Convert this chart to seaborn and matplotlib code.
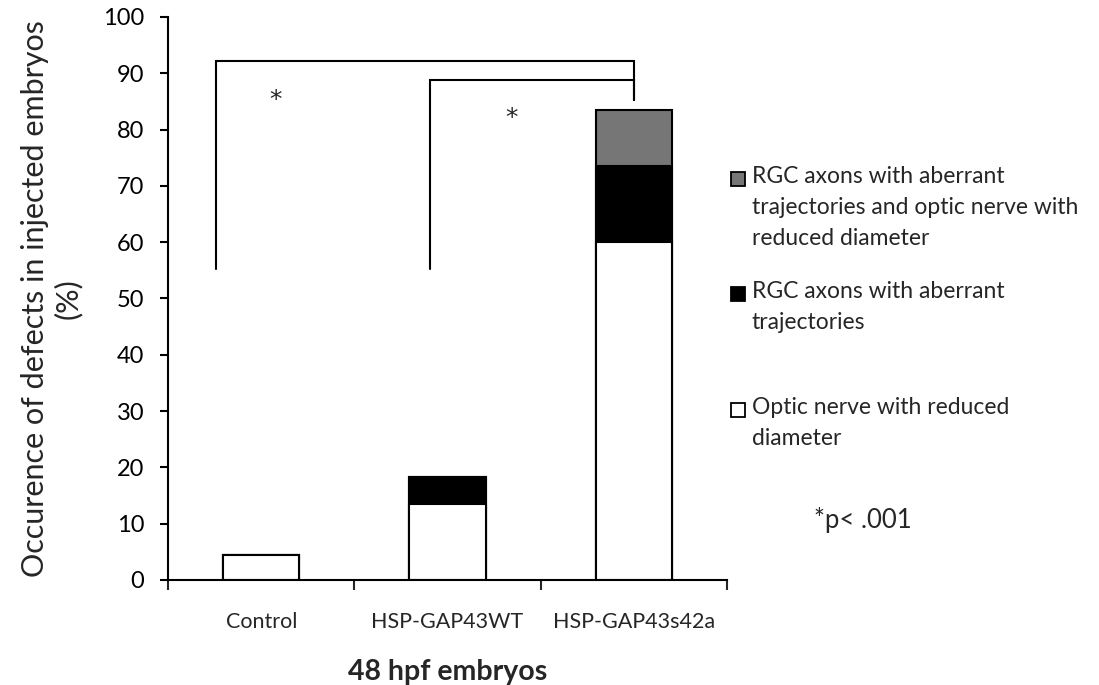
import matplotlib
matplotlib.use("Agg")
import matplotlib.pyplot as plt
import seaborn as sns
import pandas as pd
from matplotlib.patches import Rectangle
from matplotlib.ticker import FixedLocator


GROUPS = ["Control", "HSP-GAP43WT", "HSP-GAP43s42a"]
# stacked segments, bottom to top (%)
OPTIC_ONLY = [4.5, 13.5, 60.0]
AXONS_ONLY = [0.0, 4.8, 13.5]
BOTH = [0.0, 0.0, 10.0]

SEGMENT_LABELS = [
    "RGC axons with aberrant\ntrajectories and optic nerve with\nreduced diameter",
    "RGC axons with aberrant\ntrajectories",
    "Optic nerve with reduced\ndiameter",
]
SEGMENT_COLORS = ["#767676", "black", "white"]

# significance brackets: (left x, right x, left foot, top, right foot)
BRACKETS = [
    (-0.24, 2.0, 55.3, 92.2, 85.3),
    (0.907, 2.0, 55.3, 88.8, 85.3),
]
STARS = [(0.075, 85.2), (1.344, 82.0)]

FONT = ["Lato", "DejaVu Sans"]


def build_frame():
    df = pd.DataFrame({
        "group": GROUPS,
        "optic": OPTIC_ONLY,
        "axons": AXONS_ONLY,
        "both": BOTH,
    })
    # cumulative heights so that overlaid bars look stacked
    df["lvl1"] = df["optic"]
    df["lvl2"] = df["optic"] + df["axons"]
    df["lvl3"] = df["lvl2"] + df["both"]
    return df


def draw_legend(fig):
    # legend drawn by hand so the box sits on the first line of each label
    W, H = 1099, 685
    first_lines = [179, 294, 410]
    for label, color, yc in zip(SEGMENT_LABELS, SEGMENT_COLORS, first_lines):
        fig.add_artist(Rectangle((731 / W, 1 - (yc + 7) / H), 14 / W, 14 / H,
                                 transform=fig.transFigure, facecolor=color,
                                 edgecolor="black", linewidth=1.3))
        fig.text(752 / W, 1 - (yc - 13) / H, label, ha="left", va="top",
                 fontsize=16.5, linespacing=1.58)


def plot_data(df):
    sns.set_style("white")
    plt.rcParams["font.family"] = FONT
    fig = plt.figure(figsize=(10.99, 6.85), dpi=100)
    ax = fig.add_axes([0.1529, 0.1533, 0.5086, 0.8219])

    for col, color in zip(["lvl3", "lvl2", "lvl1"], SEGMENT_COLORS):
        sns.barplot(data=df, x="group", y=col, color=color, width=0.41,
                    edgecolor="black", linewidth=1.5, saturation=1,
                    errorbar=None, ax=ax)

    for x0, x1, y_left, y_top, y_right in BRACKETS:
        ax.plot([x0, x0, x1, x1], [y_left, y_top, y_top, y_right],
                color="black", lw=1.5, solid_joinstyle="miter", clip_on=False)
    for sx, sy in STARS:
        ax.text(sx, sy, "*", ha="center", va="center", fontsize=18,
                family="DejaVu Sans")

    ax.set_xlim(-0.5, 2.5)
    ax.set_ylim(0, 100)
    ax.set_yticks(range(0, 101, 10))
    ax.tick_params(axis="y", labelsize=17, length=6, width=1.5, direction="out",
                   left=True, pad=11, colors="black")
    ax.tick_params(axis="x", which="major", labelsize=15.5, length=0, pad=23)
    ax.xaxis.set_minor_locator(FixedLocator([-0.5, 0.5, 1.5, 2.5]))
    ax.tick_params(axis="x", which="minor", bottom=True, length=7, width=1.5,
                   direction="out")
    sns.despine(ax=ax)
    for side in ["left", "bottom"]:
        ax.spines[side].set_color("black")
        ax.spines[side].set_linewidth(1.5)

    ax.set_ylabel("Occurence of defects in injected embryos\n(%)",
                  fontsize=22, multialignment="center", linespacing=1.2)
    ax.yaxis.set_label_coords(-0.153, 0.5)
    ax.set_xlabel("48 hpf embryos", fontsize=20.5, fontweight="bold")
    ax.xaxis.set_label_coords(0.5, -0.14)

    draw_legend(fig)
    fig.text(0.785, 0.241, "*p< .001", ha="center", va="center", fontsize=18.5)

    fig.savefig("out.png", dpi=100)


df = build_frame()
plot_data(df)
